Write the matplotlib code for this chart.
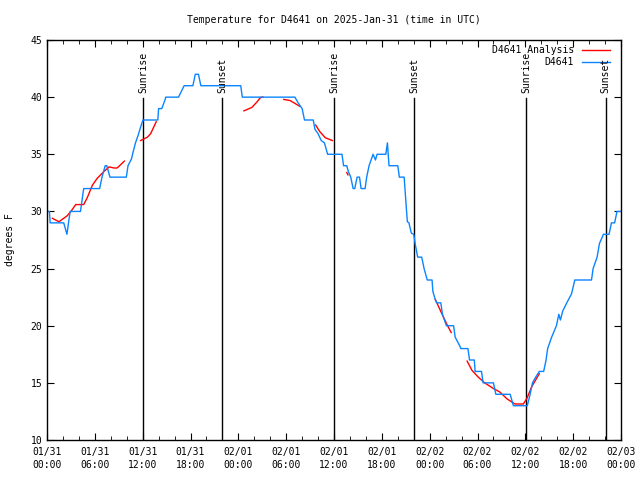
import matplotlib
matplotlib.use("Agg")
import matplotlib.pyplot as plt
import matplotlib.dates as mdates
from matplotlib.lines import Line2D
import numpy as np
import pandas as pd

# Data (hours since 2025-01-31 00:00 UTC)
start = pd.Timestamp("2025-01-31 00:00")

obs_hours = [0.0, 0.3, 0.4, 2.1, 2.5, 2.9, 4.2, 4.6, 6.6, 6.9, 7.3, 7.5, 7.9, 9.95,
             10.16, 10.6, 10.8, 11.1, 11.45, 11.75, 12.04, 13.9, 14.0, 14.4, 14.8, 14.9,
             16.5, 17.2, 18.3, 18.6, 19.0, 19.3, 24.3, 24.5, 31.1, 31.5, 32.0, 32.3,
             33.4, 33.6, 34.0, 34.4, 34.8, 35.2, 37.0, 37.2, 37.6, 37.8, 38.1, 38.4,
             38.6, 38.9, 39.2, 39.4, 39.9, 40.1, 40.4, 40.9, 41.2, 41.4, 41.9, 42.5,
             42.7, 42.9, 44.0, 44.2, 44.8, 45.0, 45.2, 45.4, 45.7, 46.0, 46.2, 46.5,
             47.0, 47.3, 47.7, 48.3, 48.4, 48.7, 48.9, 49.4, 49.6, 50.1, 51.0, 51.2,
             51.8, 51.9, 52.8, 53.0, 53.6, 53.7, 54.5, 54.7, 56.0, 56.3, 58.1, 58.5,
             60.25, 60.6, 60.9, 61.3, 61.75, 62.3, 62.6, 62.8, 63.3, 63.9, 64.2, 64.4,
             64.7, 65.2, 65.8, 66.2, 68.3, 68.5, 69.0, 69.3, 69.8, 70.5, 70.8, 71.2,
             71.5, 72.0]
obs_temps = [30, 30, 29, 29, 28, 30, 30, 32, 32, 33, 34, 34, 33, 33,
             34, 34.6, 35.2, 36, 36.7, 37.4, 38, 38, 39, 39, 39.75, 40,
             40, 41, 41, 42, 42, 41, 41, 40, 40, 39.5, 39, 38,
             38, 37.2, 36.8, 36.2, 36, 35, 35, 34, 34, 33.5, 33, 32,
             32, 33, 33, 32, 32, 33, 34, 35, 34.5, 35, 35, 35,
             36, 34, 34, 33, 33, 31, 29.1, 29, 28.1, 28, 27.1, 26,
             26, 25, 24, 24, 23, 22.3, 22, 22, 21, 20, 20, 19,
             18.2, 18, 18, 17, 17, 16, 16, 15, 15, 14, 14, 13,
             13, 14, 15, 15.5, 16, 16, 17, 18, 19, 20, 21, 20.5,
             21.3, 22, 22.8, 24, 24, 25, 26, 27.2, 28, 28, 29, 29,
             30, 30]

# analysis segments, NaN breaks the line
ana_hours = [0.67, 1.5, 2.5, 3.0, 3.6, 4.0, 4.6, 5.05, 5.7, 6.3, 7.15, 7.8, 8.4, 8.8, 9.7, np.nan,
             11.75, 12.6, 13.0, 13.7, np.nan,
             24.7, 25.7, 26.3, 26.8, 27.1, np.nan,
             29.7, 30.5, 31.1, 31.7, np.nan,
             33.7, 34.2, 34.9, 35.8, np.nan,
             37.6, 37.75, np.nan,
             48.7, 49.5, 50.2, 50.7, np.nan,
             52.7, 53.3, 54.1, 54.9, 56.0, 56.8, 57.7, 58.7, 59.75, 60.2, 60.8, 61.75]
ana_temps = [29.4, 29.1, 29.6, 30.0, 30.6, 30.6, 30.6, 31.2, 32.3, 32.9, 33.5, 33.9, 33.8, 33.8, 34.4, np.nan,
             36.2, 36.5, 36.8, 37.85, np.nan,
             38.8, 39.1, 39.55, 39.98, 40.0, np.nan,
             39.8, 39.7, 39.45, 39.2, np.nan,
             37.56, 37.0, 36.45, 36.2, np.nan,
             33.4, 33.2, np.nan,
             22.3, 21.1, 20.06, 19.4, np.nan,
             16.9, 16.1, 15.5, 15.0, 14.5, 14.2, 13.6, 13.15, 13.15, 13.65, 14.66, 15.8]

event_hours = [12.04, 21.96, 36.0, 46.05, 60.1, 70.1]
event_labels = ["Sunrise", "Sunset", "Sunrise", "Sunset", "Sunrise", "Sunset"]

obs_t = start + pd.to_timedelta(obs_hours, unit="h")
ana_t = start + pd.to_timedelta(ana_hours, unit="h")
event_t = start + pd.to_timedelta(event_hours, unit="h")

plt.rcParams["font.family"] = ["DejaVu Sans Mono"]
fs = 7
blue = "#0a84ff"

fig = plt.figure(figsize=(6.4, 4.8), dpi=100)
ax = fig.add_axes([47 / 640, 40 / 480, 574 / 640, 400 / 480])

for t, lab in zip(event_t, event_labels):
    ax.plot([t, t], [10, 39.9], color="black", lw=1.0)
    ax.text(t, 40.4, lab, rotation=90, ha="center", va="bottom", fontsize=fs)

ax.plot(ana_t, ana_temps, color="red", lw=1.0)
ax.plot(obs_t, obs_temps, color=blue, lw=1.0)

ax.set_xlim(start, start + pd.Timedelta(hours=72))
ax.set_ylim(10, 45)
ax.set_yticks(range(10, 46, 5))
ax.xaxis.set_major_locator(mdates.HourLocator(byhour=[0, 6, 12, 18]))
ax.xaxis.set_minor_locator(mdates.HourLocator(interval=2))
ax.xaxis.set_major_formatter(mdates.DateFormatter("%m/%d\n%H:%M"))
ax.tick_params(which="both", direction="in", top=True, right=True, labelsize=fs)
ax.tick_params(which="major", length=5)
ax.tick_params(which="minor", length=3)
ax.tick_params(axis="x", which="major", pad=5)
for lbl in ax.get_xticklabels():
    lbl.set_linespacing(1.4)
for s in ax.spines.values():
    s.set_linewidth(1.0)

ax.set_ylabel("degrees F", fontsize=fs)
ax.yaxis.set_label_coords(-0.056, 0.5)
ax.set_title("Temperature for D4641 on 2025-Jan-31 (time in UTC)", fontsize=fs, pad=12)

# gnuplot style key
ax.text(0.918, 0.975, "D4641 Analysis", transform=ax.transAxes, ha="right", va="center", fontsize=fs)
ax.text(0.918, 0.945, "D4641", transform=ax.transAxes, ha="right", va="center", fontsize=fs)
ax.add_line(Line2D([0.932, 0.981], [0.975, 0.975], transform=ax.transAxes, color="red", lw=1.0))
ax.add_line(Line2D([0.932, 0.981], [0.945, 0.945], transform=ax.transAxes, color=blue, lw=1.0))

fig.savefig("out.png", dpi=100)
